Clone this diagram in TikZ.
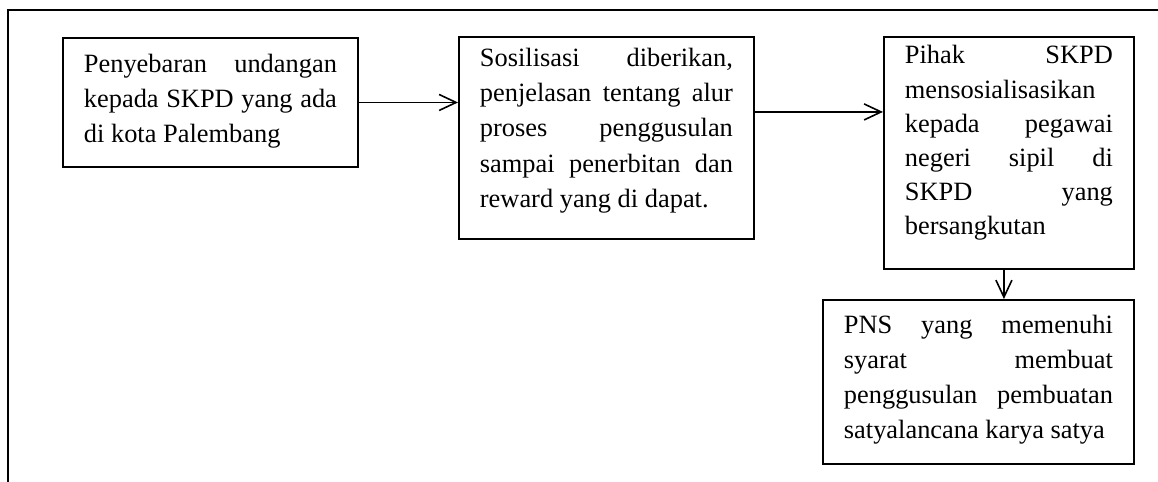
\documentclass[tikz,border=0pt]{standalone}
\usepackage{fontspec}
\setmainfont{Liberation Serif}
\usetikzlibrary{arrows.meta}

\begin{document}
\begin{tikzpicture}[x=0.75pt, y=-0.75pt, >={Straight Barb[length=12.75pt,width=12pt]},
  box/.style={draw, line width=1.4pt, anchor=north west, inner xsep=15.75pt, inner ysep=0pt,
    align=justify, font=\fontsize{19.8pt}{25.9pt}\selectfont},
  gap/.style 2 args={execute at begin node={\hyphenpenalty=10000 \rule{0pt}{#1}},
    execute at end node={\rule[-#2]{0pt}{#2}}},
  line/.style={line width=1.2pt}]
  \useasboundingbox (0,0) rectangle (1158,482);
  \draw[line width=1.6pt] (8,482) -- (8,10) -- (1158,10);
  \node[box, gap={26.25pt}{18.75pt}, text width=189.75pt, minimum height=96.75pt] (b1) at (62,37)
    {Penyebaran undangan\linebreak kepada SKPD yang ada\linebreak di kota Palembang};
  \node[box, gap={21.75pt}{23.25pt}, font=\fontsize{19.8pt}{26.6pt}\selectfont,
    text width=189.75pt, minimum height=151.5pt] (b2) at (458,36)
    {Sosilisasi diberikan,\linebreak penjelasan tentang alur\linebreak proses penggusulan\linebreak sampai penerbitan dan\linebreak reward yang di dapat.};
  \node[box, gap={20.25pt}{25.5pt}, font=\fontsize{19.8pt}{25.65pt}\selectfont,
    text width=156pt, minimum height=174pt] (b3) at (883,36)
    {Pihak SKPD\linebreak mensosialisasikan\linebreak kepada pegawai\linebreak negeri sipil di\linebreak SKPD yang\linebreak bersangkutan};
  \node[box, gap={25.5pt}{18.75pt}, font=\fontsize{19.8pt}{26.25pt}\selectfont,
    text width=201.75pt, minimum height=123pt] (b4) at (822,299)
    {PNS yang memenuhi\linebreak syarat membuat\linebreak penggusulan pembuatan\linebreak satyalancana karya satya};
  \coordinate (m2) at ([yshift=19.5pt]b2.east);
  \coordinate (m3) at ([xshift=-3.75pt]b3.south);
  \draw[line, ->] (b1.east) -- (b1.east -| b2.west);
  \draw[line, ->] (m2) -- (m2 -| b3.west);
  \draw[line, ->] (m3) -- (m3 |- b4.north);
\end{tikzpicture}
\end{document}
